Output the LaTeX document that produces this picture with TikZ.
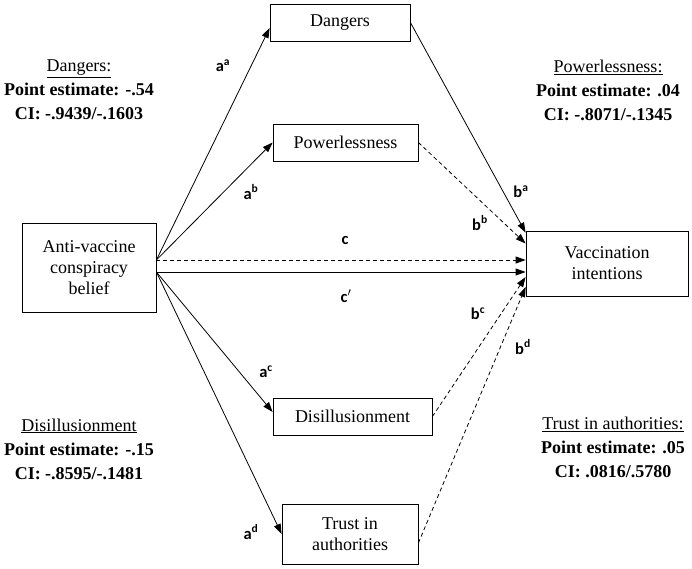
\documentclass[tikz,border=0pt]{standalone}
\usepackage{fontspec}
\setmainfont{Liberation Serif}
\newfontfamily\labelfont{Carlito}
\usetikzlibrary{arrows.meta, positioning}

\begin{document}
\begin{tikzpicture}[x=1pt, y=-1pt,
  varbox/.style={draw, line width=0.8pt, align=center, inner sep=0pt, font=\fontsize{18}{21}\selectfont},
  pathlbl/.style={inner sep=0pt, font=\labelfont\bfseries\fontsize{16.5}{16.5}\selectfont},
  effect/.style={align=center, inner sep=0pt, font=\fontsize{18}{24}\selectfont},
  link/.style={draw, line width=0.8pt, -{Triangle[length=10pt, width=7pt]}},
  weak/.style={link, dash pattern=on 4pt off 3pt}
]
  \useasboundingbox (0,0) rectangle (692,569);

  \node[varbox, minimum width=140pt, minimum height=37pt] (dang) at (340,22.5) {Dangers};
  \node[varbox, minimum width=145pt, minimum height=37pt] (power) at (345.5,142.5) {Powerlessness};
  \node[varbox, minimum width=134pt, minimum height=89pt] (belief) at (89,267.5) {Anti-vaccine\\conspiracy\\belief};
  \node[varbox, minimum width=162pt, minimum height=65pt] (intent) at (607,263.5) {Vaccination\\intentions};
  \node[varbox, minimum width=159pt, minimum height=37pt] (disill) at (352.5,416.5) {Disillusionment};
  \node[varbox, minimum width=136pt, minimum height=60pt] (trust) at (350,534) {Trust in\\authorities};

  \draw[link] ([yshift=7.5pt]belief.east) -- ([yshift=-5.5pt]dang.west);
  \draw[link] ([yshift=7.5pt]belief.east) -- (power.west);
  \draw[weak] ([yshift=7.5pt]belief.east) -- ([yshift=3.5pt]intent.west);
  \draw[link] ([yshift=-4.5pt]belief.east) -- ([yshift=-8.5pt]intent.west);
  \draw[link] ([yshift=-4.5pt]belief.east) -- ([yshift=4.5pt]disill.west);
  \draw[link] ([yshift=-4.5pt]belief.east) -- (trust.west);

  \draw[link] (dang.east) -- ([yshift=-2pt]intent.north west);
  \draw[weak] (power.east) -- ([yshift=20pt]intent.west);
  \draw[weak] (disill.east) -- ([yshift=-13.5pt]intent.west);
  \draw[weak] ([yshift=-9pt]trust.east) -- ([yshift=-23.5pt]intent.west);

  \node[pathlbl] (aa) at (223,66) {a\textsuperscript{a}};
  \node[pathlbl] (ab) at (251,192) {a\textsuperscript{b}};
  \node[pathlbl] (ac) at (266,372) {a\textsuperscript{c}};
  \node[pathlbl] (ad) at (251,532) {a\textsuperscript{d}};
  \node[pathlbl] (c) at (345,240) {c};
  \node[pathlbl] (cp) at (346,296) {c\textsuperscript{$\prime$}};
  \node[pathlbl] (ba) at (521,192) {b\textsuperscript{a}};
  \node[pathlbl] (bb) at (480,223) {b\textsuperscript{b}};
  \node[pathlbl] (bc) at (478,314) {b\textsuperscript{c}};
  \node[pathlbl] (bd) at (523,347) {b\textsuperscript{d}};

  \node[effect] (dangfx) at (79,90) {\underline{Dangers:}\\\textbf{Point estimate: -.54}\\\textbf{CI: -.9439/-.1603}};
  \node[effect] (powerfx) at (608,90) {\underline{Powerlessness:}\\\textbf{Point estimate: .04}\\\textbf{CI: -.8071/-.1345}};
  \node[effect] (disillfx) at (79,449) {\underline{Disillusionment}\\\textbf{Point estimate: -.15}\\\textbf{CI: -.8595/-.1481}};
  \node[effect] (trustfx) at (613,447) {\underline{Trust in authorities:}\\\textbf{Point estimate: .05}\\\textbf{CI: .0816/.5780}};
\end{tikzpicture}
\end{document}
